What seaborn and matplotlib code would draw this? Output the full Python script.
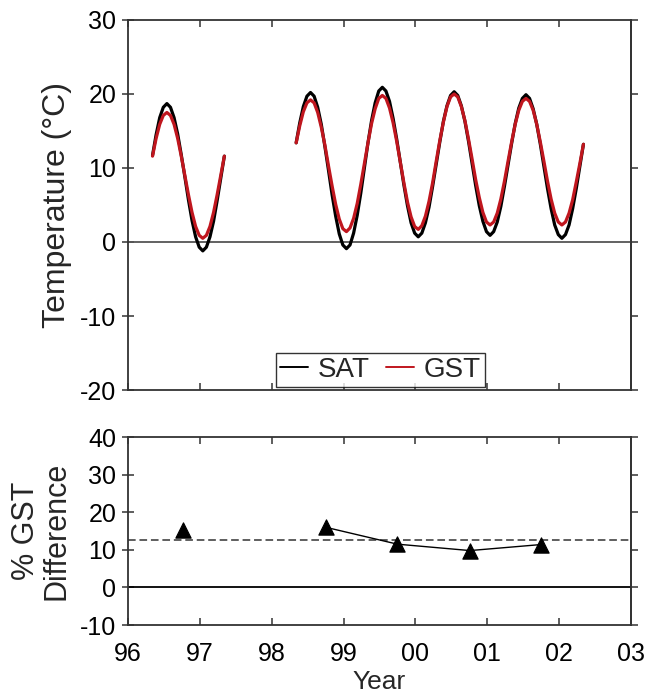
import numpy as np
import pandas as pd
import matplotlib
matplotlib.use("Agg")
import matplotlib.pyplot as plt
import seaborn as sns

# === DADOS ===
# amostras a cada 0.05 ano (96.34-97.34 e 98.34-102.34)
ano_ini_1 = 96.34
ano_ini_2 = 98.34
passo = 0.05

sat_1 = [11.7, 14.5, 16.8, 18.2, 18.7, 18.2, 16.8, 14.6, 11.8, 8.8, 5.7,
         2.9, 0.7, -0.7, -1.2, -0.7, 0.7, 2.8, 5.6, 8.6, 11.6]
gst_1 = [11.6, 14.0, 15.9, 17.1, 17.5, 17.1, 15.9, 14.0, 11.6, 9.0, 6.4,
         4.0, 2.1, 0.9, 0.5, 0.9, 2.1, 4.0, 6.4, 9.0, 11.6]

sat_2 = [13.4, 16.1, 18.3, 19.7, 20.2, 19.7, 18.2, 15.9, 12.9, 9.7, 6.4,
         3.5, 1.1, -0.4, -0.9, -0.4, 1.2, 3.6, 6.6, 10.0, 13.4, 16.4,
         18.8, 20.4, 20.9, 20.4, 19.0, 16.7, 13.9, 10.8, 7.7, 4.9, 2.6,
         1.2, 0.7, 1.2, 2.6, 4.7, 7.5, 10.5, 13.5, 16.3, 18.4, 19.8,
         20.3, 19.8, 18.4, 16.3, 13.6, 10.6, 7.6, 4.9, 2.8, 1.4, 0.9,
         1.4, 2.7, 4.8, 7.5, 10.4, 13.3, 16.0, 18.1, 19.4, 19.9, 19.4,
         18.0, 15.9, 13.2, 10.2, 7.2, 4.5, 2.3, 1.0, 0.5, 1.0, 2.3,
         4.5, 7.2, 10.2, 13.2]
gst_2 = [13.4, 15.7, 17.6, 18.8, 19.2, 18.8, 17.5, 15.5, 13.1, 10.3, 7.6,
         5.1, 3.1, 1.8, 1.4, 1.9, 3.2, 5.2, 7.8, 10.6, 13.4, 16.0,
         18.0, 19.4, 19.8, 19.4, 18.1, 16.1, 13.6, 10.8, 8.0, 5.4, 3.4,
         2.1, 1.7, 2.2, 3.5, 5.5, 8.0, 10.9, 13.7, 16.2, 18.3, 19.6,
         20.0, 19.6, 18.3, 16.4, 13.9, 11.2, 8.4, 6.0, 4.0, 2.7, 2.3,
         2.7, 3.9, 5.8, 8.2, 10.9, 13.5, 15.9, 17.8, 19.0, 19.4, 19.0,
         17.8, 15.9, 13.5, 10.9, 8.2, 5.8, 3.9, 2.7, 2.3, 2.7, 3.9,
         5.7, 8.1, 10.6, 13.2]

# diferenca percentual GST
anos_dif = [96.76, 98.75, 99.75, 100.76, 101.75]
dif_gst = [15.3, 16.0, 11.5, 9.8, 11.4]
dif_media = 12.5

anos_ticks = [96, 97, 98, 99, 100, 101, 102, 103]
rotulos_ticks = ["96", "97", "98", "99", "00", "01", "02", "03"]

# === TABELA ===
partes = []
for seg, (ini, sat, gst) in enumerate([(ano_ini_1, sat_1, gst_1),
                                        (ano_ini_2, sat_2, gst_2)]):
    anos = np.round(ini + passo * np.arange(len(sat)), 3)
    for nome, vals in [("SAT", sat), ("GST", gst)]:
        partes.append(pd.DataFrame({"ano": anos, "temp": vals,
                                    "serie": nome, "seg": seg}))
df = pd.concat(partes, ignore_index=True)
df_dif = pd.DataFrame({"ano": anos_dif, "dif": dif_gst})

# === ESTILO ===
sns.set_style("ticks")
plt.rcParams["font.family"] = ["Liberation Sans", "DejaVu Sans"]
plt.rcParams["axes.unicode_minus"] = False

fig = plt.figure(figsize=(6.47, 6.93), dpi=100)
ax1 = fig.add_axes([0.198, 0.4372, 0.777, 0.534])
ax2 = fig.add_axes([0.198, 0.0981, 0.777, 0.2713])

cores = {"SAT": "black", "GST": "#c0161e"}
cinza = "#333333"

# === PAINEL SUPERIOR ===
ax1.axhline(0, color="#555555", lw=1.3, zorder=1)
sns.lineplot(data=df, x="ano", y="temp", hue="serie", units="seg",
             estimator=None, palette=cores, hue_order=["SAT", "GST"],
             lw=2.3, ax=ax1, legend=False, zorder=3)
ax1.set_ylim(-20, 30)
ax1.set_yticks([-20, -10, 0, 10, 20, 30])
ax1.set_ylabel("Temperature (°C)", fontsize=23)
ax1.yaxis.set_label_coords(-0.112, 0.5)
ax1.set_xlabel("")

h = [plt.Line2D([], [], color=cores[s], lw=1.4) for s in ["SAT", "GST"]]
leg = ax1.legend(h, ["SAT", "GST"], loc="lower center",
                 bbox_to_anchor=(0.502, 0.008), ncol=2, fontsize=20,
                 frameon=True, fancybox=False, handlelength=1.0,
                 handletextpad=0.35, columnspacing=0.6, borderpad=0.15,
                 borderaxespad=0.0)
leg.get_frame().set_edgecolor("black")
leg.get_frame().set_linewidth(1.0)

# === PAINEL INFERIOR ===
ax2.axhline(0, color="black", lw=1.3, zorder=1)
ax2.axhline(dif_media, color=cinza, lw=1.1, ls=(0, (5, 2.5)), zorder=1)
sns.lineplot(data=df_dif.iloc[1:], x="ano", y="dif", color="black",
             lw=1.0, ax=ax2, zorder=2)
sns.scatterplot(data=df_dif, x="ano", y="dif", marker="^", s=120,
                color="black", edgecolor="black", ax=ax2, zorder=3)
ax2.set_ylim(-10, 40)
ax2.set_yticks([-10, 0, 10, 20, 30, 40])
ax2.set_ylabel("% GST\nDifference", fontsize=22, linespacing=1.05)
ax2.yaxis.set_label_coords(-0.112, 0.5)
ax2.set_xlabel("Year", fontsize=19, labelpad=3)

for ax in (ax1, ax2):
    ax.set_xlim(96, 103)
    ax.set_xticks(anos_ticks)
    for s in ax.spines.values():
        s.set_visible(True)
        s.set_linewidth(1.3)
        s.set_color(cinza)
    ax.tick_params(axis="x", direction="in", length=5, width=1.1,
                   top=True, labelsize=18, pad=12, colors=cinza,
                   labelcolor="black")
    ax.tick_params(axis="y", direction="inout", length=9, width=1.1,
                   labelsize=18, pad=4, colors=cinza, labelcolor="black")
    # marcas do lado direito, para fora
    dir_ax = ax.secondary_yaxis("right")
    dir_ax.set_yticks(ax.get_yticks())
    dir_ax.tick_params(direction="out", length=5, width=1.1, colors=cinza,
                       labelright=False)
    dir_ax.spines["right"].set_linewidth(1.3)
    dir_ax.spines["right"].set_color(cinza)
ax2.set_xticklabels(rotulos_ticks)
ax1.set_xticklabels([])

fig.savefig("out.png", dpi=100)
